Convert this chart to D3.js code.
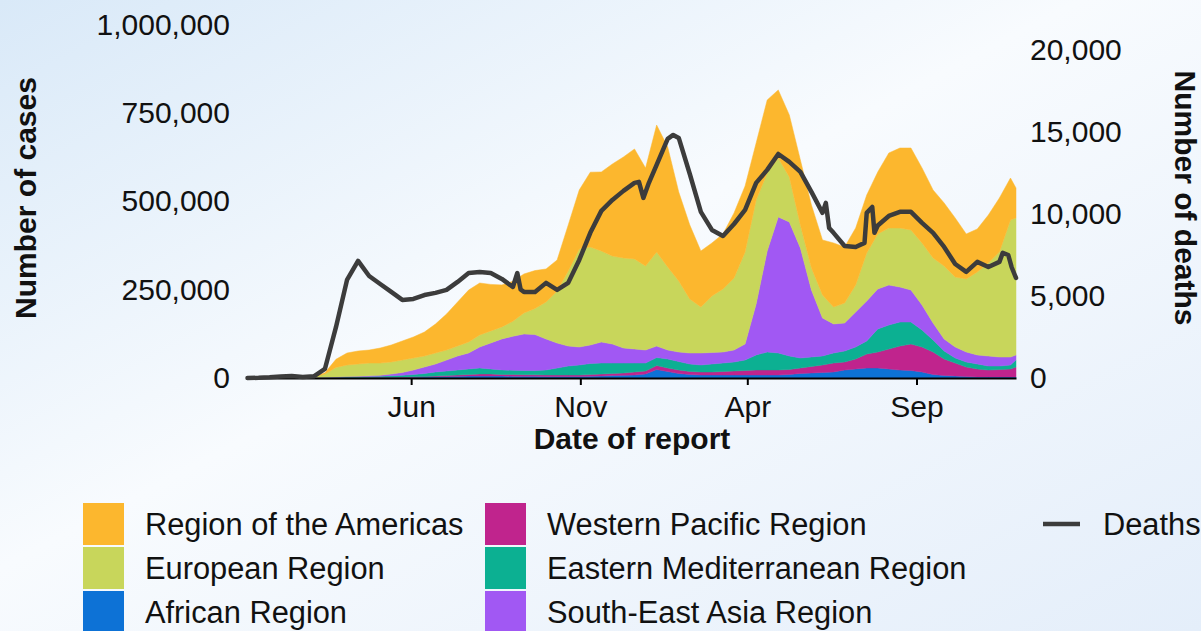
<!DOCTYPE html>
<html><head><meta charset="utf-8">
<script src="https://cdn.jsdelivr.net/npm/d3@7"></script>
<style>
html,body{margin:0;padding:0;overflow:hidden;background:#fff;}
svg{display:block;}
text{font-family:"Liberation Sans", Arial, Helvetica, sans-serif;}
</style>
</head><body><div id="chart"></div>
<script>
// ---------------- DATA ----------------
const dates = ["2020-01-05","2020-01-15","2020-01-25","2020-02-04","2020-02-14","2020-02-24","2020-03-05","2020-03-15","2020-03-25","2020-04-04",
"2020-04-14","2020-04-24","2020-05-04","2020-05-14","2020-05-24","2020-06-03","2020-06-13","2020-06-23","2020-07-03","2020-07-13",
"2020-07-23","2020-08-02","2020-08-12","2020-08-22","2020-09-01","2020-09-11","2020-09-21","2020-10-01","2020-10-11","2020-10-21",
"2020-10-31","2020-11-10","2020-11-20","2020-11-30","2020-12-10","2020-12-20","2020-12-30","2021-01-09","2021-01-19","2021-01-29",
"2021-02-08","2021-02-18","2021-02-28","2021-03-10","2021-03-20","2021-03-30","2021-04-09","2021-04-19","2021-04-29","2021-05-09",
"2021-05-19","2021-05-29","2021-06-08","2021-06-18","2021-06-28","2021-07-08","2021-07-18","2021-07-28","2021-08-07","2021-08-17",
"2021-08-27","2021-09-06","2021-09-16","2021-09-26","2021-10-06","2021-10-16","2021-10-26","2021-11-05","2021-11-15","2021-11-25","2021-11-30"];

const regionNames = ["Region of the Americas","European Region","African Region","Western Pacific Region","Eastern Mediterranean Region","South-East Asia Region"];

const african = [0,0,0,0,0,0,0,100,200,300,600,800,1100,1400,1700,2300,2800,3400,4200,4800,5700,5700,5700,5700,5100,4800,4800,4500,4200,4200,4200,5100,5700,6800,7600,8500,11300,24000,18400,12700,9900,8500,8500,8500,8500,8500,8500,8500,8500,9900,12700,14200,15600,17000,22600,25500,28300,28300,25500,22600,21200,17000,9900,7100,5700,4200,2800,2800,2800,2800,2800];

const westernPacific = [0,0,700,3000,4000,1200,800,600,800,800,800,800,800,800,1100,1100,1400,2300,2800,3700,4200,5700,5700,4200,4800,4500,4200,4200,4200,4200,4200,4500,5700,5900,6500,8500,8500,11300,9900,9900,8500,8500,8500,9900,11300,12700,14200,14200,14200,14200,15600,18400,21200,25500,22600,28300,39600,45300,56600,67900,75000,70800,63700,46700,36800,26900,22600,19800,21200,22600,28300];

const easternMediterranean = [0,0,0,0,0,50,600,1200,1100,1700,2000,2500,3100,4000,4800,6500,8500,11300,12700,14200,15600,17000,14200,13000,12000,12000,12000,14000,19800,25500,28300,31400,31100,29700,28300,25500,22600,22600,25500,24000,21200,19800,22600,24000,25500,29700,42500,50900,48100,38200,28300,26900,25500,28300,31100,34000,36800,65100,67900,67900,62300,48100,34000,22600,14200,14200,14200,11300,9900,11300,19800];

const southEastAsia = [0,0,0,0,0,0,50,150,800,1400,1700,2000,2500,5100,7900,12700,18400,22600,31100,39600,45300,59400,73600,87700,96200,103300,101900,87700,70800,56600,51000,52400,59400,53800,42500,39600,36800,32500,25500,26900,31100,34000,32500,31100,34000,45300,144300,285800,384900,379200,311300,189600,107500,82100,79200,99000,113200,113200,113200,99000,90600,70800,48100,34000,31100,28300,25500,28300,25500,22600,14200];

const european = [0,0,0,0,10,100,1500,9000,27000,32500,34500,36200,34800,34000,35400,34000,31100,31100,28300,28300,31100,34000,34000,34000,42500,59400,73600,104700,147200,212000,277000,277000,257500,249000,254700,254700,237700,266000,234900,201000,152800,130200,159900,178300,203800,260400,294300,220700,167000,127400,65100,62300,65100,48100,56600,76400,135800,155700,161300,167000,169800,175500,184000,206600,198100,206600,234900,263200,297200,387700,387700];

const americas = [0,0,0,0,0,10,300,3500,23000,34000,36800,36800,42500,48000,53800,59400,67900,82000,101900,124500,147000,147000,131600,118900,113200,110400,107500,93400,87700,130000,167000,212000,223600,260400,285800,311300,277300,359400,339600,251900,209400,158500,150000,155700,184000,186800,161300,206600,192400,175500,184000,178300,155700,181100,158500,161300,164100,175500,212200,226400,232000,212200,192400,178300,167000,127400,121700,135800,152800,118900,84900];

const deathDates = ["2020-01-05","2020-01-15","2020-01-25","2020-02-04","2020-02-14","2020-02-24","2020-03-05","2020-03-15","2020-03-25","2020-04-04",
"2020-04-14","2020-04-24","2020-05-04","2020-05-14","2020-05-24","2020-06-03","2020-06-13","2020-06-23","2020-07-03","2020-07-13",
"2020-07-23","2020-08-02","2020-08-12","2020-08-22","2020-09-01","2020-09-05","2020-09-08","2020-09-11","2020-09-21","2020-10-01",
"2020-10-11","2020-10-21","2020-10-31","2020-11-10","2020-11-20","2020-11-30","2020-12-10","2020-12-20","2020-12-24","2020-12-28",
"2021-01-02","2021-01-09","2021-01-19","2021-01-24","2021-01-29","2021-02-08","2021-02-18","2021-02-28","2021-03-10","2021-03-20",
"2021-03-30","2021-04-09","2021-04-19","2021-04-29","2021-05-09","2021-05-19","2021-05-29","2021-06-08","2021-06-11","2021-06-14",
"2021-06-18","2021-06-28","2021-07-08","2021-07-16","2021-07-18","2021-07-23","2021-07-25","2021-07-28","2021-08-07","2021-08-17",
"2021-08-27","2021-09-06","2021-09-16","2021-09-26","2021-10-06","2021-10-16","2021-10-26","2021-11-05","2021-11-15","2021-11-18",
"2021-11-23","2021-11-26","2021-11-30"];

const deaths = [0,10,40,90,120,60,100,550,3100,5980,
7140,6220,5730,5250,4760,4820,5060,5190,5370,5860,
6400,6470,6400,6040,5550,6400,5400,5250,5250,5800,
5370,5800,7200,8850,10190,10860,11410,11900,11960,10980,
11900,13000,14580,14820,14640,12440,10130,9030,8660,9390,
10250,11900,12690,13660,13180,12570,11350,10070,10680,9150,
8850,8050,7990,8240,10070,10430,8850,9300,9880,10130,
10130,9460,8850,7990,6950,6470,7080,6770,7080,7630,
7500,6770,6100];

const xTickDates = ["2020-06-01","2020-11-01","2021-04-01","2021-09-01"];
const xTickLabels = ["Jun","Nov","Apr","Sep"];
const caseTicks = [0,250000,500000,750000,1000000];
const deathTicks = [0,5000,10000,15000,20000];

// ---------------- STYLE ----------------
const colors = {
  americas:"#FCB72E", european:"#C8D65B", african:"#0D72D6",
  westernPacific:"#C0248D", easternMediterranean:"#0CB092", southEastAsia:"#A158F3"
};
const deathColor = "#3c3c3c";

const W=1201,H=631;
const svg=d3.select("#chart").append("svg").attr("width",W).attr("height",H);
const defs=svg.append("defs");
const lg=defs.append("linearGradient").attr("id","bg").attr("x1","0").attr("y1","0").attr("x2","1").attr("y2","1");
lg.append("stop").attr("offset","0%").attr("stop-color","#d9e9f8");
lg.append("stop").attr("offset","45%").attr("stop-color","#f8fbfe");
lg.append("stop").attr("offset","100%").attr("stop-color","#e4eefa");
svg.append("rect").attr("width",W).attr("height",H).attr("fill","url(#bg)");

const parse=d3.timeParse("%Y-%m-%d");
const x=d3.scaleTime().domain([parse("2020-01-05"),parse("2021-11-30")]).range([247.5,1016]);
const yC=d3.scaleLinear().domain([0,1000000]).range([378,24.6]);
const yD=d3.scaleLinear().domain([0,20000]).range([378,50]);

const series = {african, westernPacific, easternMediterranean, southEastAsia, european, americas};
const keys=["african","westernPacific","easternMediterranean","southEastAsia","european","americas"];
const rows=dates.map((d,i)=>{const r={date:parse(d)}; keys.forEach(k=>r[k]=series[k][i]); return r;});
const stacked=d3.stack().keys(keys)(rows);
const area=d3.area().x(d=>x(d.data.date)).y0(d=>yC(d[0])).y1(d=>yC(d[1]));
svg.append("g").selectAll("path").data(stacked).join("path")
  .attr("d",area).attr("fill",d=>colors[d.key]).attr("stroke",d=>colors[d.key]).attr("stroke-width",0.5);

// x axis
const xAxis=d3.axisBottom(x).tickValues(xTickDates.map(parse))
  .tickFormat((d,i)=>xTickLabels[i]).tickSize(7).tickSizeOuter(0).tickPadding(11);
const gx=svg.append("g").attr("transform","translate(0,378)").call(xAxis);
gx.select(".domain").attr("stroke","#000").attr("stroke-width",2.2);
gx.selectAll(".tick line").attr("stroke","#000").attr("stroke-width",2);
gx.selectAll(".tick text").attr("font-size",30).attr("fill","#111").attr("font-family","Liberation Sans, Arial, sans-serif");

// left axis
const gl=svg.append("g").attr("transform","translate(236,0)")
  .call(d3.axisLeft(yC).tickValues(caseTicks).tickFormat(d3.format(",")).tickSize(0).tickPadding(6));
gl.select(".domain").remove();
gl.selectAll("text").attr("font-size",30).attr("fill","#111").attr("font-family","Liberation Sans, Arial, sans-serif");

// right axis
const gr=svg.append("g").attr("transform","translate(1024,0)")
  .call(d3.axisRight(yD).tickValues(deathTicks).tickFormat(d3.format(",")).tickSize(0).tickPadding(6));
gr.select(".domain").remove();
gr.selectAll("text").attr("font-size",30).attr("fill","#111").attr("font-family","Liberation Sans, Arial, sans-serif");

// deaths line
const line=d3.line().x((d,i)=>x(parse(deathDates[i]))).y(d=>yD(d));
svg.append("path").datum(deaths).attr("d",line).attr("fill","none")
  .attr("stroke",deathColor).attr("stroke-width",4.5).attr("stroke-linejoin","round").attr("stroke-linecap","round");

// axis titles
svg.append("text").attr("transform","translate(36,198) rotate(-90)").attr("text-anchor","middle")
  .attr("font-size",30).attr("font-weight","bold").attr("fill","#111").text("Number of cases");
svg.append("text").attr("transform","translate(1175,198) rotate(90)").attr("text-anchor","middle")
  .attr("font-size",30).attr("font-weight","bold").attr("fill","#111").text("Number of deaths");
svg.append("text").attr("x",632).attr("y",449).attr("text-anchor","middle")
  .attr("font-size",30).attr("font-weight","bold").attr("fill","#111").text("Date of report");

// legend
const legendItems=[
  {k:"americas",col:0,row:0},{k:"european",col:0,row:1},{k:"african",col:0,row:2},
  {k:"westernPacific",col:1,row:0},{k:"easternMediterranean",col:1,row:1},{k:"southEastAsia",col:1,row:2}
];
const nameOf={americas:regionNames[0],european:regionNames[1],african:regionNames[2],westernPacific:regionNames[3],easternMediterranean:regionNames[4],southEastAsia:regionNames[5]};
const colX=[83,485], rowY=[524,568,612];
const lgG=svg.append("g");
legendItems.forEach(it=>{
  lgG.append("rect").attr("x",colX[it.col]).attr("y",rowY[it.row]-21).attr("width",41).attr("height",42)
    .attr("fill",colors[it.k]);
  lgG.append("text").attr("x",colX[it.col]+62).attr("y",rowY[it.row]+10.5)
    .attr("font-size",30.8).attr("fill","#111").text(nameOf[it.k]);
});
lgG.append("line").attr("x1",1043).attr("x2",1080).attr("y1",524).attr("y2",524)
  .attr("stroke",deathColor).attr("stroke-width",4.5);
lgG.append("text").attr("x",1103).attr("y",534.5).attr("font-size",30.8).attr("fill","#111").text("Deaths");
</script>
</body></html>
